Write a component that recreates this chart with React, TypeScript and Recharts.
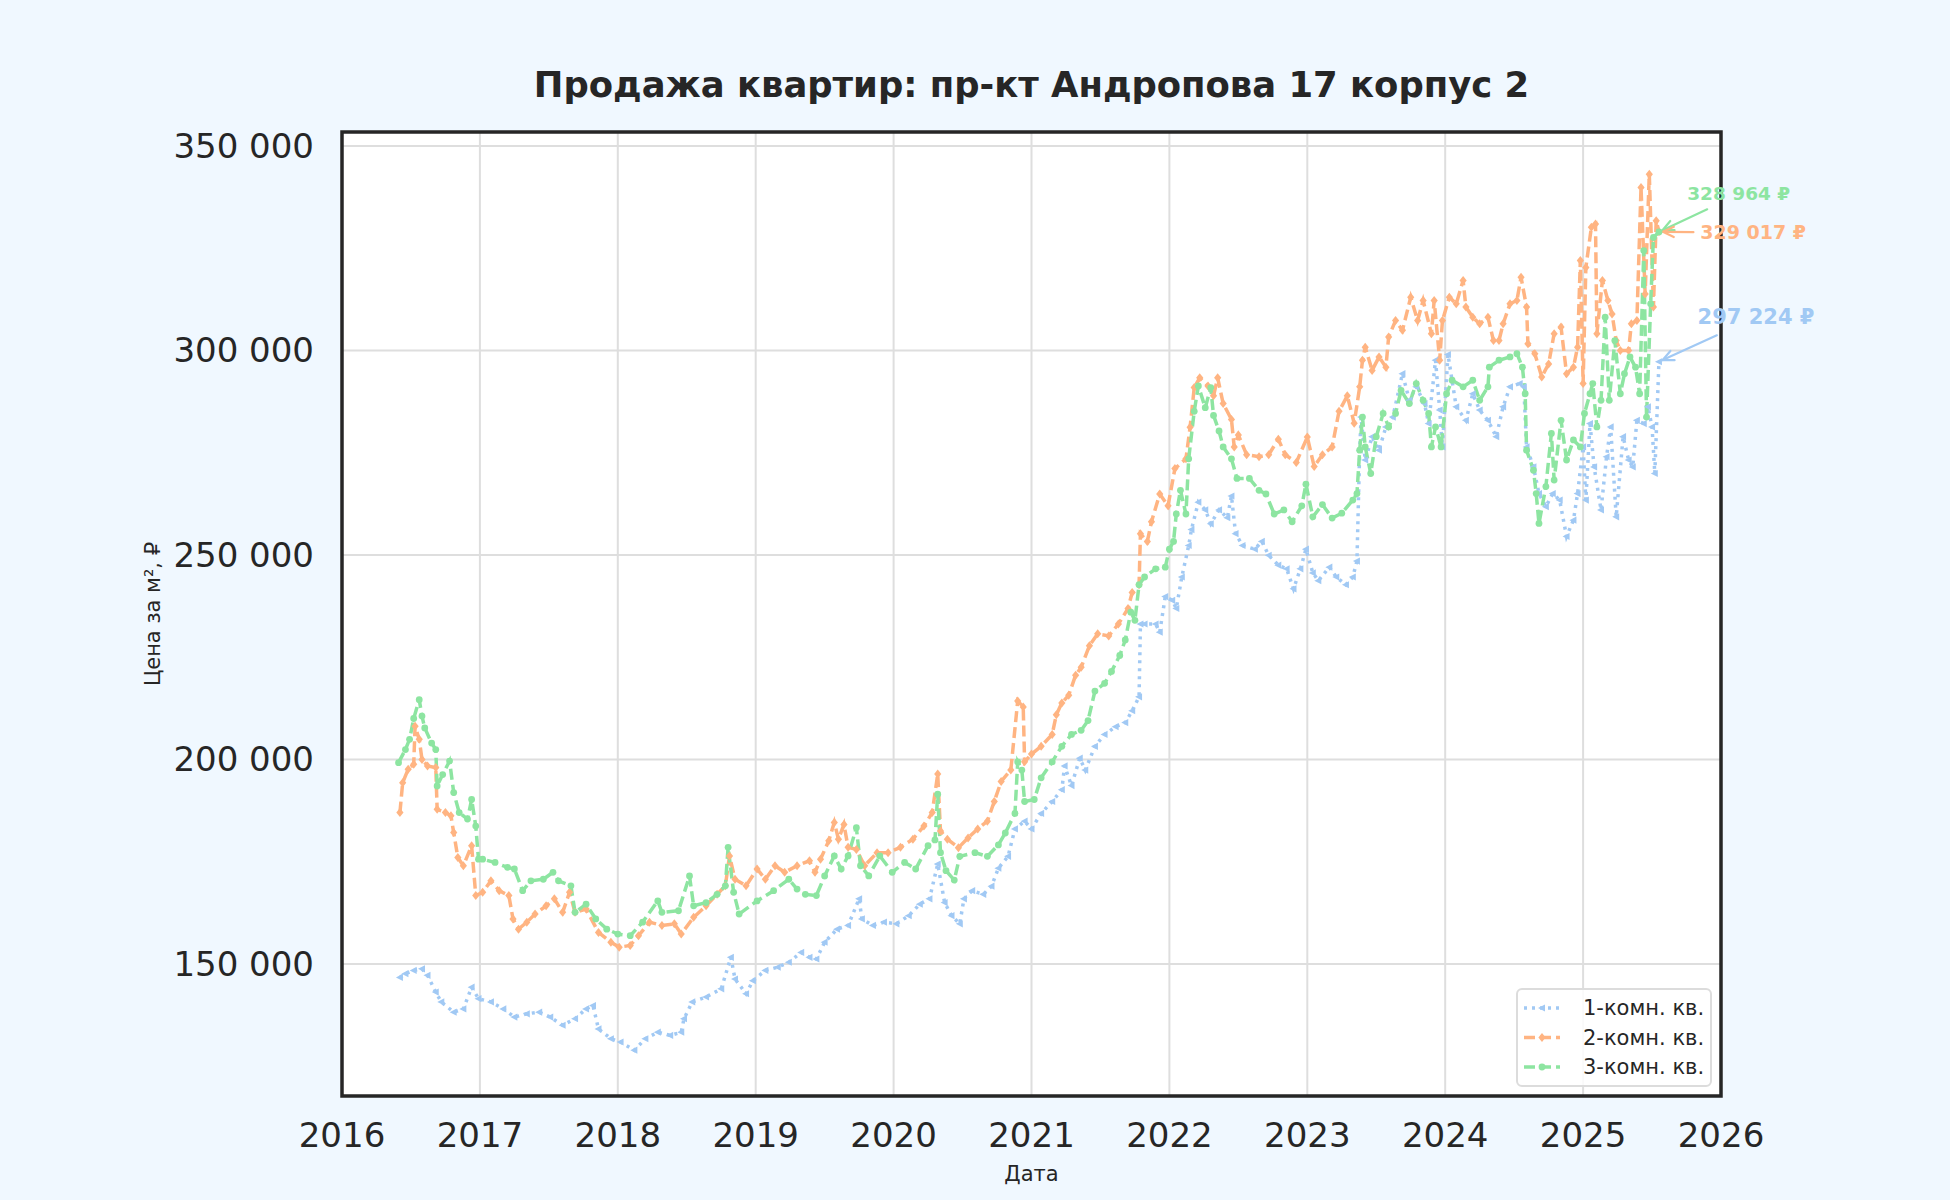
import {
    LineChart,
    Line,
    XAxis,
    YAxis,
    CartesianGrid,
    Legend,
    ReferenceLine,
    ReferenceDot,
    ReferenceArea,
} from 'recharts'

// decimal year, price per m² (RUB)
const oneRoomSeries: [number, number][] = [
    [2016.42, 146700], [2016.46, 147600], [2016.52, 148400], [2016.58, 148800], [2016.62, 147200],
    [2016.68, 143100], [2016.72, 140700], [2016.81, 138200], [2016.88, 139000], [2016.94, 144300],
    [2016.99, 141500], [2017.08, 140700], [2017.17, 139000], [2017.25, 137000], [2017.34, 137800],
    [2017.43, 138200], [2017.51, 137000], [2017.6, 135000], [2017.69, 136600], [2017.77, 139000],
    [2017.82, 139800], [2017.86, 134100], [2017.95, 131700], [2018.02, 130900], [2018.12, 128900],
    [2018.2, 131700], [2018.29, 133300], [2018.38, 132500], [2018.46, 133300], [2018.48, 136600],
    [2018.54, 140700], [2018.64, 141900], [2018.75, 143900], [2018.82, 151600], [2018.85, 146300],
    [2018.93, 142700], [2018.98, 145900], [2019.07, 148400], [2019.16, 149200], [2019.24, 150400],
    [2019.33, 152800], [2019.39, 151600], [2019.44, 151200], [2019.5, 155300], [2019.59, 158500],
    [2019.67, 159400], [2019.75, 165900], [2019.77, 161000], [2019.85, 159400], [2019.93, 160200],
    [2020.02, 159800], [2020.11, 161800], [2020.19, 164600], [2020.26, 165900], [2020.32, 174400],
    [2020.37, 165000], [2020.42, 161800], [2020.48, 159800], [2020.51, 165900], [2020.57, 167900],
    [2020.65, 167000], [2020.71, 169000], [2020.76, 173400], [2020.83, 176300], [2020.88, 183000],
    [2020.95, 184900], [2021.0, 183000], [2021.07, 186800], [2021.15, 189700], [2021.22, 192600],
    [2021.24, 198400], [2021.29, 193600], [2021.35, 200300], [2021.39, 197400], [2021.46, 203200],
    [2021.53, 206100], [2021.61, 208000], [2021.68, 209000], [2021.73, 211900], [2021.78, 215300],
    [2021.79, 233100], [2021.82, 233100], [2021.9, 233100], [2021.93, 231100], [2021.97, 239800],
    [2022.02, 238900], [2022.05, 236900], [2022.09, 244600], [2022.14, 252300], [2022.16, 256200],
    [2022.21, 262900], [2022.26, 261000], [2022.3, 257600], [2022.36, 261000], [2022.42, 259100],
    [2022.45, 264400], [2022.48, 255200], [2022.53, 252300], [2022.62, 251400], [2022.67, 253300],
    [2022.72, 249900], [2022.79, 247500], [2022.85, 246600], [2022.9, 241700], [2022.95, 246600],
    [2022.99, 251400], [2023.04, 245600], [2023.08, 243700], [2023.16, 247000], [2023.21, 244600],
    [2023.28, 242700], [2023.33, 244600], [2023.36, 248500], [2023.38, 275600], [2023.39, 283700],
    [2023.42, 273200], [2023.47, 278900], [2023.52, 275600], [2023.57, 281300], [2023.62, 283700],
    [2023.69, 294300], [2023.74, 287800], [2023.79, 291100], [2023.85, 287000], [2023.88, 282100],
    [2023.93, 297600], [2023.96, 285400], [2023.98, 276400], [2024.02, 299000], [2024.08, 286200],
    [2024.15, 282900], [2024.2, 289400], [2024.25, 285400], [2024.31, 282900], [2024.37, 278900],
    [2024.42, 286200], [2024.47, 291100], [2024.54, 291900], [2024.57, 291100], [2024.59, 276400],
    [2024.64, 271500], [2024.68, 265000], [2024.73, 261800], [2024.78, 265000], [2024.83, 263400],
    [2024.88, 254500], [2024.93, 258500], [2024.96, 265000], [2025.0, 276400], [2025.02, 263400],
    [2025.05, 282100], [2025.08, 271500], [2025.13, 261000], [2025.17, 274000], [2025.2, 281300],
    [2025.24, 259300], [2025.29, 278900], [2025.33, 273200], [2025.36, 271500], [2025.39, 282900],
    [2025.44, 282100], [2025.47, 286200], [2025.5, 281300], [2025.52, 269900], [2025.55, 297224],
]

const twoRoomSeries: [number, number][] = [
    [2016.42, 187000], [2016.44, 194300], [2016.48, 197600], [2016.52, 198800], [2016.53, 208100],
    [2016.56, 204900], [2016.58, 200000], [2016.62, 198400], [2016.68, 198000], [2016.69, 187800],
    [2016.75, 187000], [2016.79, 186200], [2016.81, 182100], [2016.84, 176000], [2016.88, 174000],
    [2016.94, 178900], [2016.97, 166700], [2017.02, 167500], [2017.08, 170300], [2017.14, 167900],
    [2017.21, 166700], [2017.24, 161000], [2017.28, 158500], [2017.34, 160200], [2017.4, 162200],
    [2017.48, 164200], [2017.54, 165900], [2017.6, 162600], [2017.65, 167500], [2017.69, 162600],
    [2017.77, 163400], [2017.86, 157700], [2017.95, 155300], [2018.01, 154100], [2018.09, 154500],
    [2018.15, 156900], [2018.23, 160200], [2018.32, 159400], [2018.41, 159800], [2018.46, 157300],
    [2018.55, 161400], [2018.64, 164200], [2018.72, 167000], [2018.78, 169100], [2018.81, 176400],
    [2018.85, 170700], [2018.93, 169100], [2019.01, 173200], [2019.07, 170700], [2019.14, 174000],
    [2019.21, 172400], [2019.3, 174000], [2019.39, 175200], [2019.43, 172400], [2019.47, 175600],
    [2019.53, 180100], [2019.57, 184600], [2019.6, 180500], [2019.64, 184100], [2019.67, 178500],
    [2019.73, 178000], [2019.79, 174000], [2019.88, 177200], [2019.96, 177200], [2020.05, 178500],
    [2020.14, 180500], [2020.22, 183700], [2020.28, 187000], [2020.32, 196400], [2020.34, 182500],
    [2020.39, 180500], [2020.47, 178400], [2020.54, 180800], [2020.61, 183000], [2020.68, 184900],
    [2020.73, 189700], [2020.78, 194600], [2020.85, 197400], [2020.9, 214300], [2020.94, 212800],
    [2020.95, 199400], [2021.0, 201300], [2021.07, 203200], [2021.15, 206100], [2021.18, 210900],
    [2021.22, 213800], [2021.27, 215700], [2021.32, 220600], [2021.36, 222500], [2021.42, 227800],
    [2021.48, 230700], [2021.56, 230200], [2021.63, 233100], [2021.7, 236900], [2021.73, 240800],
    [2021.78, 242700], [2021.79, 255200], [2021.84, 253300], [2021.87, 258100], [2021.93, 264900],
    [2021.99, 262000], [2022.04, 271100], [2022.12, 273500], [2022.15, 281200], [2022.18, 290900],
    [2022.22, 293300], [2022.28, 291300], [2022.32, 288900], [2022.35, 293300], [2022.39, 287000],
    [2022.45, 283100], [2022.47, 276400], [2022.5, 279300], [2022.56, 274500], [2022.65, 274000],
    [2022.72, 274500], [2022.79, 278300], [2022.84, 274500], [2022.92, 272600], [2023.0, 278800],
    [2023.05, 271600], [2023.11, 274500], [2023.18, 276400], [2023.23, 285100], [2023.29, 288900],
    [2023.34, 282200], [2023.38, 291100], [2023.4, 297600], [2023.42, 300800], [2023.47, 295100],
    [2023.52, 298400], [2023.57, 295900], [2023.59, 303300], [2023.64, 307300], [2023.69, 304900],
    [2023.75, 313000], [2023.8, 307300], [2023.84, 312200], [2023.9, 304100], [2023.92, 312200],
    [2023.96, 297600], [2023.98, 307300], [2024.03, 313000], [2024.08, 311400], [2024.13, 317100],
    [2024.15, 310600], [2024.2, 308100], [2024.25, 306500], [2024.31, 308100], [2024.35, 302400],
    [2024.39, 302400], [2024.42, 306500], [2024.47, 311400], [2024.52, 312200], [2024.55, 317900],
    [2024.59, 310600], [2024.6, 301600], [2024.65, 299200], [2024.7, 293500], [2024.75, 296700],
    [2024.79, 304100], [2024.84, 305700], [2024.88, 294300], [2024.93, 295900], [2024.96, 300800],
    [2024.98, 322000], [2025.0, 291900], [2025.02, 320300], [2025.06, 330100], [2025.09, 330900],
    [2025.1, 304100], [2025.14, 317100], [2025.18, 312200], [2025.21, 308900], [2025.24, 302400],
    [2025.27, 300000], [2025.33, 300000], [2025.35, 306500], [2025.39, 307300], [2025.42, 339800],
    [2025.45, 313800], [2025.48, 343100], [2025.51, 310600], [2025.53, 331700], [2025.55, 329017],
]

const threeRoomSeries: [number, number][] = [
    [2016.41, 199200], [2016.46, 202400], [2016.49, 204900], [2016.52, 210000], [2016.56, 214600],
    [2016.58, 210600], [2016.6, 207700], [2016.65, 204000], [2016.68, 202400], [2016.69, 193500],
    [2016.73, 196300], [2016.78, 199600], [2016.81, 191900], [2016.85, 187000], [2016.91, 185400],
    [2016.94, 190200], [2016.97, 183700], [2016.99, 175600], [2017.02, 175600], [2017.11, 174800],
    [2017.2, 173600], [2017.25, 173200], [2017.31, 167900], [2017.37, 170300], [2017.46, 170700],
    [2017.53, 172400], [2017.57, 170300], [2017.66, 169100], [2017.69, 162600], [2017.77, 164600],
    [2017.84, 161000], [2017.92, 158500], [2018.0, 157300], [2018.09, 156900], [2018.18, 160200],
    [2018.29, 165400], [2018.32, 162600], [2018.44, 163000], [2018.52, 171500], [2018.55, 164200],
    [2018.64, 165000], [2018.72, 167000], [2018.78, 169100], [2018.8, 178500], [2018.84, 167500],
    [2018.88, 162200], [2019.01, 165400], [2019.13, 167900], [2019.24, 170700], [2019.3, 168300],
    [2019.36, 167000], [2019.44, 166700], [2019.5, 171500], [2019.57, 176400], [2019.62, 173200],
    [2019.67, 176400], [2019.73, 183300], [2019.76, 174000], [2019.82, 171500], [2019.9, 176400],
    [2019.99, 172400], [2020.08, 174800], [2020.16, 173200], [2020.25, 178900], [2020.3, 180300],
    [2020.32, 191500], [2020.34, 177200], [2020.38, 172800], [2020.44, 170500], [2020.48, 176300],
    [2020.59, 177200], [2020.68, 176300], [2020.76, 179100], [2020.81, 182000], [2020.88, 186800],
    [2020.9, 199400], [2020.93, 197400], [2020.95, 189700], [2021.02, 190200], [2021.07, 195500],
    [2021.15, 199400], [2021.22, 203200], [2021.29, 206100], [2021.36, 207100], [2021.41, 209500],
    [2021.46, 216700], [2021.53, 218600], [2021.58, 221500], [2021.64, 225400], [2021.68, 229200],
    [2021.72, 236000], [2021.75, 234000], [2021.78, 242700], [2021.82, 244600], [2021.9, 246600],
    [2021.97, 247000], [2022.0, 251400], [2022.03, 253300], [2022.05, 260000], [2022.08, 265800],
    [2022.12, 260000], [2022.14, 273500], [2022.18, 285100], [2022.21, 291300], [2022.26, 286000],
    [2022.3, 290900], [2022.32, 284100], [2022.36, 280300], [2022.39, 276400], [2022.45, 273500],
    [2022.49, 268700], [2022.58, 268700], [2022.65, 265800], [2022.7, 264900], [2022.76, 260000],
    [2022.83, 261000], [2022.89, 258100], [2022.96, 262000], [2022.99, 267300], [2023.04, 259300],
    [2023.11, 262300], [2023.18, 259000], [2023.25, 260200], [2023.33, 263400], [2023.36, 265000],
    [2023.38, 275600], [2023.4, 283700], [2023.42, 276400], [2023.46, 269900], [2023.5, 278900],
    [2023.55, 284600], [2023.59, 281300], [2023.64, 284600], [2023.68, 290200], [2023.74, 287000],
    [2023.79, 291900], [2023.84, 287800], [2023.88, 284600], [2023.9, 276400], [2023.93, 281300],
    [2023.97, 276400], [2024.01, 289400], [2024.05, 292700], [2024.13, 291100], [2024.2, 292700],
    [2024.25, 287800], [2024.31, 291100], [2024.32, 295900], [2024.39, 297600], [2024.47, 298400],
    [2024.52, 299200], [2024.56, 295900], [2024.58, 289400], [2024.59, 275600], [2024.64, 270700],
    [2024.66, 265000], [2024.68, 257700], [2024.73, 266700], [2024.77, 279700], [2024.79, 268300],
    [2024.84, 282900], [2024.88, 273200], [2024.93, 278100], [2024.98, 276400], [2025.01, 284600],
    [2025.05, 289400], [2025.07, 291900], [2025.1, 281300], [2025.13, 287800], [2025.16, 308100],
    [2025.19, 287800], [2025.23, 302400], [2025.27, 289400], [2025.3, 294300], [2025.34, 298400],
    [2025.38, 295900], [2025.41, 289400], [2025.44, 324400], [2025.46, 283700], [2025.49, 311400],
    [2025.51, 327600], [2025.55, 328964],
]

const seriesNames = ['1-комн. кв.', '2-комн. кв.', '3-комн. кв.']
const xTicks = [2016, 2017, 2018, 2019, 2020, 2021, 2022, 2023, 2024, 2025, 2026]
const yTicks = [150000, 200000, 250000, 300000, 350000]

const FONT = '"DejaVu Sans", Verdana, sans-serif'
const INK = '#262626'
const BLUE = '#a1c9f4'
const ORANGE = '#ffb482'
const GREEN = '#8de5a1'

const X_DOMAIN: [number, number] = [2016, 2026]
const Y_DOMAIN: [number, number] = [117700, 353400]

const toPoints = (s: [number, number][]) => s.map(([t, v]) => ({ t, v }))
const last = (s: [number, number][]) => s[s.length - 1]

const fmtRub = (v: number) => String(v).replace(/\B(?=(\d{3})+(?!\d))/g, ' ')

// annotation text anchors and arrow tails (data coords), arrow tip = last point
const annotations = [
    { series: threeRoomSeries, color: GREEN, size: 18.5, text: [2025.755, 338400], tail: [2025.9, 334500] },
    { series: twoRoomSeries, color: ORANGE, size: 19, text: [2025.85, 328900], tail: [2025.8, 328900] },
    { series: oneRoomSeries, color: BLUE, size: 21, text: [2025.83, 308100], tail: [2025.97, 303700] },
]

const triDot = (color: string) => (p: any) => {
    const { cx, cy, index } = p
    if (cx == null || cy == null) return <g key={`b-${index}`} />
    return (
        <path
            key={`b-${index}`}
            d={`M${cx - 4},${cy} L${cx + 3},${cy - 3.6} L${cx + 3},${cy + 3.6} Z`}
            fill={color}
        />
    )
}

const diamondDot = (color: string) => (p: any) => {
    const { cx, cy, index } = p
    if (cx == null || cy == null) return <g key={`o-${index}`} />
    return (
        <path
            key={`o-${index}`}
            d={`M${cx},${cy - 4.5} L${cx + 3.6},${cy} L${cx},${cy + 4.5} L${cx - 3.6},${cy} Z`}
            fill={color}
        />
    )
}

const roundDot = (color: string) => (p: any) => {
    const { cx, cy, index } = p
    if (cx == null || cy == null) return <g key={`g-${index}`} />
    return <circle key={`g-${index}`} cx={cx} cy={cy} r={3.4} fill={color} />
}

const arrowShape = (color: string) => (p: any) => {
    const { x1, y1, x2, y2 } = p
    if ([x1, y1, x2, y2].some((n) => n == null || Number.isNaN(n))) return <g />
    const dx = x2 - x1
    const dy = y2 - y1
    const len = Math.hypot(dx, dy) || 1
    const ux = dx / len
    const uy = dy / len
    const tx = x2 - ux * 4
    const ty = y2 - uy * 4
    const head = 12
    const a = (25 * Math.PI) / 180
    const h1x = tx - head * (ux * Math.cos(a) - uy * Math.sin(a))
    const h1y = ty - head * (uy * Math.cos(a) + ux * Math.sin(a))
    const h2x = tx - head * (ux * Math.cos(a) + uy * Math.sin(a))
    const h2y = ty - head * (uy * Math.cos(a) - ux * Math.sin(a))
    return (
        <g stroke={color} strokeWidth={2.2} fill="none" strokeLinecap="round">
            <line x1={x1} y1={y1} x2={tx} y2={ty} />
            <polyline points={`${h1x},${h1y} ${tx},${ty} ${h2x},${h2y}`} />
        </g>
    )
}

const legendRows = [
    { name: seriesNames[0], color: BLUE, dash: '3 5', marker: 'tri' },
    { name: seriesNames[1], color: ORANGE, dash: '11 5', marker: 'diamond' },
    { name: seriesNames[2], color: GREEN, dash: '11 5', marker: 'dot' },
]

function LegendBox() {
    return (
        <div
            style={{
                width: 196,
                height: 99,
                boxSizing: 'border-box',
                border: '2px solid #dcdcdc',
                borderRadius: 6,
                background: 'rgba(255,255,255,0.85)',
            }}
        >
            <svg width={192} height={95} style={{ display: 'block' }}>
                {legendRows.map((r, i) => {
                    const y = 18 + i * 29.5
                    const mx = 24
                    return (
                        <g key={r.name}>
                            <line x1={6} y1={y} x2={42} y2={y} stroke={r.color} strokeWidth={3.5} strokeDasharray={r.dash} />
                            {r.marker === 'tri' && (
                                <path d={`M${mx - 4},${y} L${mx + 3},${y - 3.6} L${mx + 3},${y + 3.6} Z`} fill={r.color} />
                            )}
                            {r.marker === 'diamond' && (
                                <path d={`M${mx},${y - 4.5} L${mx + 3.6},${y} L${mx},${y + 4.5} L${mx - 3.6},${y} Z`} fill={r.color} />
                            )}
                            {r.marker === 'dot' && <circle cx={mx} cy={y} r={3.4} fill={r.color} />}
                            <text x={65} y={y} dominantBaseline="central" fontFamily={FONT} fontSize={21} fill={INK}>
                                {r.name}
                            </text>
                        </g>
                    )
                })}
            </svg>
        </div>
    )
}

export default function App() {
    return (
        <div
            style={{
                position: 'absolute',
                left: 0,
                top: 0,
                width: 1950,
                height: 1200,
                background: '#f0f8ff',
                fontFamily: FONT,
            }}
        >
            <LineChart width={1950} height={1200} margin={{ top: 132, right: 229, bottom: 0, left: 142 }}>
                <CartesianGrid fill="#ffffff" stroke="#dedede" strokeWidth={2} />
                <XAxis
                    dataKey="t"
                    type="number"
                    domain={X_DOMAIN}
                    ticks={xTicks}
                    allowDataOverflow
                    height={104}
                    tickLine={false}
                    tickSize={6}
                    tickMargin={21}
                    axisLine={false}
                    tick={{ fill: INK, fontSize: 34, fontFamily: FONT }}
                    tickFormatter={(v: number) => String(v)}
                />
                <YAxis
                    dataKey="v"
                    type="number"
                    domain={Y_DOMAIN}
                    ticks={yTicks}
                    allowDataOverflow
                    width={200}
                    tickLine={false}
                    tickSize={6}
                    tickMargin={22}
                    axisLine={false}
                    tick={{ fill: INK, fontSize: 34, fontFamily: FONT }}
                    tickFormatter={fmtRub}
                />
                <Line
                    data={toPoints(oneRoomSeries)}
                    dataKey="v"
                    name={seriesNames[0]}
                    stroke={BLUE}
                    strokeWidth={3.5}
                    strokeDasharray="3 5"
                    dot={triDot(BLUE)}
                    activeDot={false}
                    isAnimationActive={false}
                />
                <Line
                    data={toPoints(twoRoomSeries)}
                    dataKey="v"
                    name={seriesNames[1]}
                    stroke={ORANGE}
                    strokeWidth={3.5}
                    strokeDasharray="11 5"
                    dot={diamondDot(ORANGE)}
                    activeDot={false}
                    isAnimationActive={false}
                />
                <Line
                    data={toPoints(threeRoomSeries)}
                    dataKey="v"
                    name={seriesNames[2]}
                    stroke={GREEN}
                    strokeWidth={3.5}
                    strokeDasharray="11 5"
                    dot={roundDot(GREEN)}
                    activeDot={false}
                    isAnimationActive={false}
                />
                <ReferenceArea
                    x1={X_DOMAIN[0]}
                    x2={X_DOMAIN[1]}
                    y1={Y_DOMAIN[0]}
                    y2={Y_DOMAIN[1]}
                    fill="none"
                    fillOpacity={0}
                    stroke={INK}
                    strokeWidth={3.5}
                    ifOverflow="visible"
                />
                {annotations.map((a, i) => {
                    const [lt, lv] = last(a.series)
                    return (
                        <ReferenceLine
                            key={`arrow-${i}`}
                            segment={[
                                { x: a.tail[0], y: a.tail[1] },
                                { x: lt, y: lv },
                            ]}
                            ifOverflow="visible"
                            shape={arrowShape(a.color)}
                        />
                    )
                })}
                {annotations.map((a, i) => {
                    const [, lv] = last(a.series)
                    return (
                        <ReferenceDot
                            key={`label-${i}`}
                            x={a.text[0]}
                            y={a.text[1]}
                            ifOverflow="visible"
                            shape={(p: any) => (
                                <text
                                    x={p.cx}
                                    y={p.cy}
                                    dominantBaseline="central"
                                    fontFamily={FONT}
                                    fontWeight="bold"
                                    fontSize={a.size}
                                    fill={a.color}
                                >
                                    {`${fmtRub(lv)} ₽`}
                                </text>
                            )}
                        />
                    )
                })}
                <Legend
                    layout="horizontal"
                    verticalAlign="middle"
                    align="center"
                    content={() => <LegendBox />}
                    wrapperStyle={{ left: 1516, top: 988, width: 196, height: 99 }}
                />
            </LineChart>
            <svg
                width={1950}
                height={1200}
                style={{ position: 'absolute', left: 0, top: 0, pointerEvents: 'none' }}
            >
                <text x={1031.5} y={97} textAnchor="middle" fontFamily={FONT} fontWeight="bold" fontSize={35.4} fill={INK}>
                    Продажа квартир: пр-кт Андропова 17 корпус 2
                </text>
                <text
                    x={160}
                    y={614}
                    textAnchor="middle"
                    transform="rotate(-90 160 614)"
                    fontFamily={FONT}
                    fontSize={21}
                    fill={INK}
                >
                    Цена за м², ₽
                </text>
                <text x={1031.5} y={1181} textAnchor="middle" fontFamily={FONT} fontSize={21} fill={INK}>
                    Дата
                </text>
            </svg>
        </div>
    )
}
